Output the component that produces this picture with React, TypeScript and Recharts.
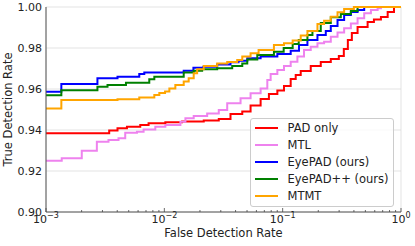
import React from "react";
import { LineChart, Line, XAxis, YAxis, CartesianGrid, Legend, Label } from "recharts";

const FONT = "'DejaVu Sans', sans-serif";

// tick values
const xMajorTicks = [0.001, 0.01, 0.1, 1];
const xMinorTicks = [
  0.002, 0.003, 0.004, 0.005, 0.006, 0.007, 0.008, 0.009,
  0.02, 0.03, 0.04, 0.05, 0.06, 0.07, 0.08, 0.09,
  0.2, 0.3, 0.4, 0.5, 0.6, 0.7, 0.8, 0.9,
];
const yTicks = [0.9, 0.92, 0.94, 0.96, 0.98, 1.0];

// PAD only
const padOnlyFdr = [0.001, 0.00342, 0.00402, 0.00483, 0.00626, 0.00736, 0.0102, 0.01413, 0.02153, 0.02885, 0.03624, 0.04556, 0.05356, 0.06512, 0.07652, 0.09018, 0.1026, 0.1169, 0.1289, 0.1421, 0.1727, 0.2099, 0.2551, 0.2983, 0.3287, 0.3555, 0.3843, 0.4296, 0.5222, 0.5904, 0.6767, 0.7716, 0.8724, 1];
const padOnlyTdr = [0.9384, 0.9398, 0.9408, 0.9416, 0.9424, 0.9433, 0.9438, 0.9441, 0.9446, 0.9454, 0.9478, 0.949, 0.952, 0.9551, 0.9576, 0.9593, 0.9615, 0.9649, 0.9668, 0.9688, 0.9712, 0.9732, 0.9746, 0.9761, 0.9795, 0.9839, 0.9873, 0.9902, 0.9927, 0.9939, 0.9951, 0.9976, 1.0, 1.0];

// MTL
const mtlFdr = [0.001, 0.001358, 0.002006, 0.00269, 0.003373, 0.0041, 0.004672, 0.005869, 0.006678, 0.008389, 0.0102, 0.01367, 0.01507, 0.01771, 0.02301, 0.02885, 0.03399, 0.04407, 0.05356, 0.06512, 0.07418, 0.07914, 0.09018, 0.1026, 0.1169, 0.1332, 0.1515, 0.1727, 0.1968, 0.2239, 0.2551, 0.2908, 0.3307, 0.377, 0.4296, 0.4887, 0.5568, 0.6346, 0.6767, 1];
const mtlTdr = [0.925, 0.9262, 0.9299, 0.9343, 0.9351, 0.936, 0.9387, 0.9392, 0.9403, 0.9416, 0.9424, 0.944, 0.9457, 0.9468, 0.9481, 0.9498, 0.953, 0.9555, 0.9579, 0.9603, 0.9644, 0.9673, 0.9693, 0.9712, 0.9733, 0.9758, 0.979, 0.9806, 0.9823, 0.9831, 0.9855, 0.9876, 0.9896, 0.992, 0.9945, 0.9969, 0.9985, 0.9994, 1.0, 1.0];

// EyePAD (ours)
const eyePadFdr = [0.001, 0.001348, 0.00272, 0.00402, 0.00614, 0.00677, 0.01458, 0.01761, 0.0214, 0.02796, 0.03624, 0.04237, 0.05022, 0.06512, 0.09018, 0.1169, 0.1374, 0.1619, 0.1968, 0.2314, 0.2551, 0.2908, 0.3307, 0.377, 0.4296, 0.4887, 1];
const eyePadTdr = [0.9587, 0.9624, 0.9652, 0.966, 0.9673, 0.968, 0.9689, 0.9704, 0.9709, 0.972, 0.973, 0.9738, 0.975, 0.9758, 0.9771, 0.9787, 0.9815, 0.9839, 0.9863, 0.9883, 0.9907, 0.9937, 0.9961, 0.9976, 0.9985, 1.0, 1.0];

// EyePAD++ (ours)
const eyePadPPFdr = [0.001, 0.001348, 0.00272, 0.00331, 0.00474, 0.00746, 0.00823, 0.01458, 0.01771, 0.02087, 0.02796, 0.03746, 0.04556, 0.05022, 0.06104, 0.08436, 0.102, 0.1215, 0.1367, 0.1619, 0.1785, 0.2099, 0.2551, 0.3101, 0.377, 0.4296, 1];
const eyePadPPTdr = [0.9569, 0.9594, 0.9611, 0.962, 0.9631, 0.9647, 0.966, 0.968, 0.9689, 0.9696, 0.9701, 0.9712, 0.9725, 0.9744, 0.9766, 0.9782, 0.98, 0.982, 0.9839, 0.9863, 0.9883, 0.9922, 0.995, 0.9966, 0.998, 1.0, 1.0];

// MTMT
const mtmtFdr = [0.001, 0.001348, 0.00402, 0.00614, 0.00823, 0.00907, 0.01014, 0.01103, 0.01239, 0.01458, 0.01606, 0.01771, 0.01893, 0.02153, 0.02796, 0.03399, 0.04131, 0.04556, 0.05356, 0.0626, 0.08436, 0.1026, 0.1215, 0.1421, 0.1619, 0.1968, 0.2239, 0.2551, 0.2908, 0.3307, 0.3996, 1];
const mtmtTdr = [0.9505, 0.9546, 0.955, 0.9558, 0.9571, 0.958, 0.9588, 0.9603, 0.962, 0.9636, 0.9652, 0.9677, 0.9696, 0.9712, 0.9725, 0.9732, 0.9741, 0.9758, 0.9774, 0.979, 0.9815, 0.9823, 0.9837, 0.9861, 0.9883, 0.9917, 0.9933, 0.9953, 0.9974, 0.999, 1.0, 1.0];

const toPoints = (fdr: number[], tdr: number[]) => fdr.map((f, i) => ({ fdr: f, tdr: tdr[i] }));

const series = [
  { name: "PAD only", color: "#ff0000", data: toPoints(padOnlyFdr, padOnlyTdr) },
  { name: "MTL", color: "#ee82ee", data: toPoints(mtlFdr, mtlTdr) },
  { name: "EyePAD (ours)", color: "#0000ff", data: toPoints(eyePadFdr, eyePadTdr) },
  { name: "EyePAD++ (ours)", color: "#008000", data: toPoints(eyePadPPFdr, eyePadPPTdr) },
  { name: "MTMT", color: "#ffa500", data: toPoints(mtmtFdr, mtmtTdr) },
];

const LogTick = (props: any) => {
  const { x, y, payload } = props;
  const v = payload.value;
  const major = xMajorTicks.includes(v);
  const exp = Math.round(Math.log10(v));
  return (
    <g>
      <line x1={x} x2={x} y1={y} y2={y - (major ? 4 : 2)} stroke="#444" strokeWidth={0.8} />
      {major && (
        <text x={x} y={y + 10.5} textAnchor="middle" fontSize={11} fill="#222" fontFamily={FONT}>
          10
          <tspan dy={-5} fontSize={8}>{exp === 0 ? "0" : "\u2212" + Math.abs(exp)}</tspan>
        </text>
      )}
    </g>
  );
};

const LegendBox = () => (
  <div
    style={{
      width: 144,
      height: 89,
      boxSizing: "border-box",
      border: "1px solid #cccccc",
      borderRadius: 3,
      background: "rgba(255,255,255,0.8)",
      fontFamily: FONT,
      fontSize: 11.5,
      color: "#222",
    }}
  >
    {series.map((s) => (
      <div key={s.name} style={{ display: "flex", alignItems: "center", height: 17 }}>
        <span style={{ display: "inline-block", width: 23, height: 2, background: s.color, marginLeft: 4, marginRight: 9.5 }} />
        <span>{s.name}</span>
      </div>
    ))}
  </div>
);

export default function App() {
  return (
    <div style={{ position: "absolute", left: 0, top: 0, width: 415, height: 246, background: "#fff" }}>
      <LineChart width={415} height={246} margin={{ top: 7, right: 14, bottom: 0, left: 0 }}>
        <CartesianGrid xAxisId="top" stroke="#dcdcdc" strokeWidth={0.8} />
        <XAxis
          dataKey="fdr"
          type="number"
          scale="log"
          domain={[0.001, 1]}
          ticks={[...xMajorTicks, ...xMinorTicks]}
          interval={0}
          tick={<LogTick />}
          tickLine={false}
          tickSize={0}
          tickMargin={0}
          height={34}
          axisLine={{ stroke: "#555" }}
        >
          <Label
            content={({ viewBox }: any) => (
              <text x={viewBox.x + viewBox.width / 2} y={viewBox.y + 25} textAnchor="middle" fontSize={11.5} fill="#222" fontFamily={FONT}>
                False Detection Rate
              </text>
            )}
          />
        </XAxis>
        <XAxis
          xAxisId="top"
          orientation="top"
          dataKey="fdr"
          type="number"
          scale="log"
          domain={[0.001, 1]}
          ticks={xMajorTicks}
          tick={false}
          tickLine={false}
          height={0}
          axisLine={{ stroke: "#555" }}
        />
        <YAxis
          type="number"
          domain={[0.9, 1]}
          ticks={yTicks}
          tickFormatter={(v: number) => v.toFixed(2)}
          tick={{ fontSize: 11, fill: "#222", fontFamily: FONT }}
          tickLine={false}
          tickSize={4}
          tickMargin={0}
          width={46}
          axisLine={{ stroke: "#555" }}
        >
          <Label
            content={({ viewBox }: any) => {
              const cx = viewBox.x + 12;
              const cy = viewBox.y + viewBox.height / 2;
              return (
                <text x={cx} y={cy} transform={`rotate(-90 ${cx} ${cy})`} textAnchor="middle" fontSize={11.5} fill="#222" fontFamily={FONT}>
                  True Detection Rate
                </text>
              );
            }}
          />
        </YAxis>
        <YAxis
          yAxisId="right"
          orientation="right"
          type="number"
          domain={[0.9, 1]}
          ticks={yTicks}
          tick={false}
          tickLine={false}
          width={0}
          axisLine={{ stroke: "#555" }}
        />
        {series.map((s) => (
          <Line
            key={s.name}
            data={s.data}
            dataKey="tdr"
            name={s.name}
            type="stepAfter"
            stroke={s.color}
            strokeWidth={2}
            dot={false}
            activeDot={false}
            isAnimationActive={false}
          />
        ))}
        <Legend
          layout="vertical"
          align="center"
          verticalAlign="middle"
          content={<LegendBox />}
          wrapperStyle={{ left: 250, top: 118, width: 144 }}
        />
      </LineChart>
    </div>
  );
}
